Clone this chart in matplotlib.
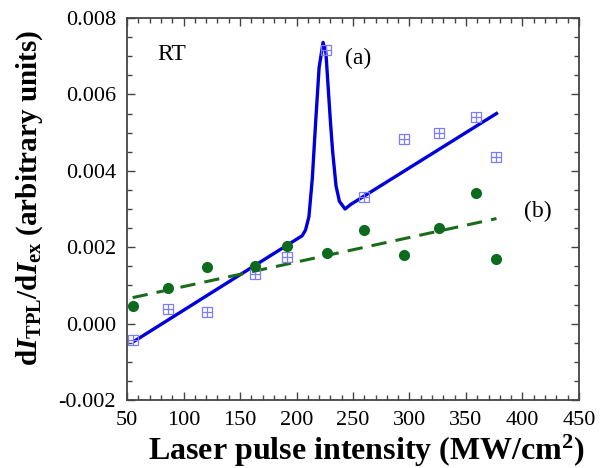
import matplotlib
matplotlib.use('Agg')
import matplotlib.pyplot as plt
from matplotlib.ticker import MultipleLocator, FormatStrFormatter

plt.rcParams['font.family'] = ['Liberation Serif', 'DejaVu Serif']
plt.rcParams['mathtext.fontset'] = 'custom'
plt.rcParams['mathtext.rm'] = 'Liberation Serif:bold'
plt.rcParams['mathtext.it'] = 'Liberation Serif:italic:bold'
plt.rcParams['mathtext.bf'] = 'Liberation Serif:bold'
plt.rcParams['axes.unicode_minus'] = False

# (a) squares, measured points
sq_x = [55, 86, 121, 163, 192, 226, 260, 295, 326, 359, 377]
sq_y = [-0.00042, 0.00039, 0.0003, 0.00131, 0.00175, 0.00715, 0.00332, 0.00484, 0.0050, 0.0054, 0.00435]

# (b) circles, measured points
dot_x = [55, 86, 121, 163, 192, 227, 260, 295, 326, 359, 377]
dot_y = [0.00047, 0.00094, 0.00147, 0.00152, 0.00204, 0.00186, 0.00246, 0.0018, 0.00251, 0.00343, 0.00168]

# (a) fitted curve with the peak
curve_x = [57, 205, 208, 211, 214, 217, 220, 223.5, 226, 228, 230, 232, 235, 238, 243, 248, 377]
curve_y = [-0.00045, 0.0023, 0.00245, 0.0028, 0.0038, 0.0053, 0.0067, 0.00736, 0.0071, 0.0062, 0.0053, 0.0045, 0.0036, 0.0032, 0.0030, 0.00312, 0.0055]

# (b) linear fit
fit_x = [55, 377]
fit_y = [0.00068, 0.00275]

fig = plt.figure(figsize=(6.06, 4.68), dpi=100)
ax = fig.add_axes([0.2096, 0.1453, 0.7458, 0.8162])

ax.plot(curve_x, curve_y, color='#0000dd', lw=2.4, zorder=3)
ax.plot(fit_x, fit_y, color='#1a6b1a', lw=2.2, dashes=(5, 3), zorder=3)
ax.plot(sq_x, sq_y, ls='none', marker='s', ms=7.5, mfc='none', mec='#7c7cff', mew=0.9, zorder=4)
ax.plot(sq_x, sq_y, ls='none', marker='+', ms=7.5, mec='#7c7cff', mew=0.9, zorder=4)
ax.plot(dot_x, dot_y, ls='none', marker='o', ms=7, color='#0d6b1e', zorder=4)

ax.text(77, 0.0069, 'RT', fontsize=17)
ax.text(243, 0.0068, '(a)', fontsize=17)
ax.text(401, 0.0028, '(b)', fontsize=17)

ax.set_xlim(50, 450)
ax.set_ylim(-0.002, 0.008)
ax.xaxis.set_major_locator(MultipleLocator(50))
ax.xaxis.set_minor_locator(MultipleLocator(10))
ax.yaxis.set_major_locator(MultipleLocator(0.002))
ax.yaxis.set_minor_locator(MultipleLocator(0.0005))
ax.yaxis.set_major_formatter(FormatStrFormatter('%.3f'))
ax.tick_params(which='both', direction='in', top=True, right=True, labelsize=16, color='#444444')
ax.tick_params(which='major', length=6, width=1, pad=8)
ax.tick_params(which='minor', length=3.5, width=1)
for s in ax.spines.values():
    s.set_linewidth(1.3)
    s.set_color('#444444')

ax.set_xlabel(r'Laser pulse intensity (MW/cm$^{\mathrm{2}}$)', fontsize=23, fontweight='bold', labelpad=2)
ax.xaxis.label.set_x(0.53)
ax.set_ylabel(r'd$\mathit{I}_{\mathrm{TPL}}$/d$\mathit{I}_{\mathrm{ex}}$ (arbitrary units)', fontsize=21, fontweight='bold', labelpad=10)
ax.yaxis.label.set_y(0.53)

fig.savefig('out.png', dpi=100)
